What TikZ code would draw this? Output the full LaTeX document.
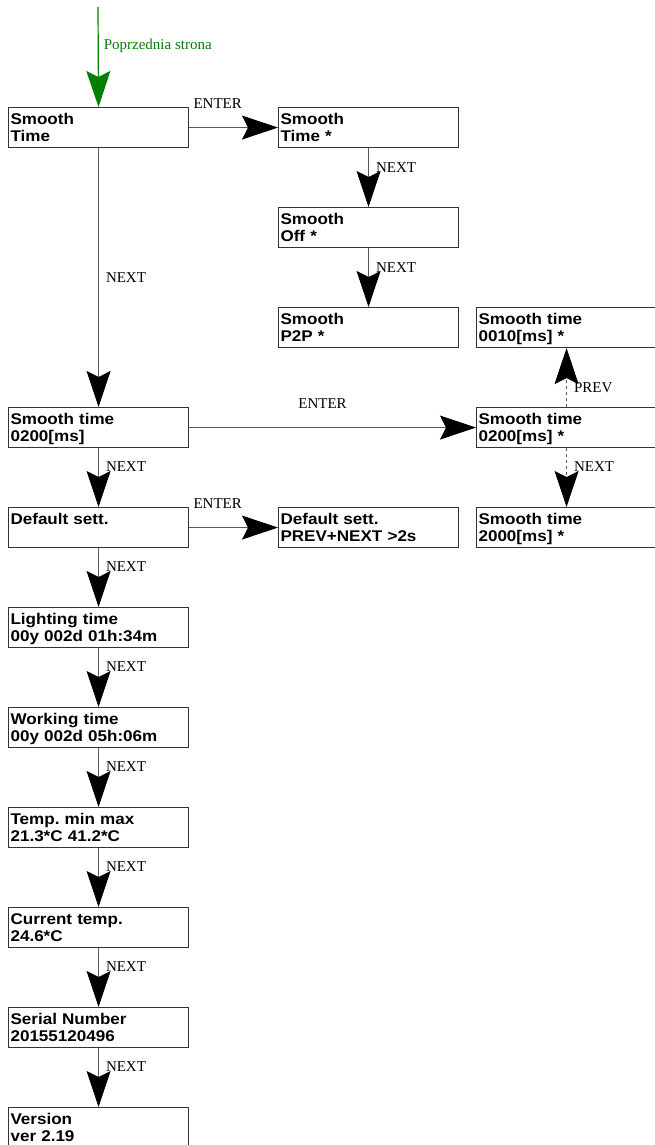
\documentclass[tikz,border=0pt]{standalone}
\usepackage{fontspec}
\setmainfont{Liberation Serif}
\setsansfont{Liberation Sans}[FakeStretch=1.1]
\usetikzlibrary{arrows.meta}
\frenchspacing

\begin{document}
\begin{tikzpicture}[x=1pt, y=-1pt,
 menu/.style={draw=black!80, line width=1.1pt, anchor=north west, text width=176pt,
   inner xsep=2pt, inner ysep=0pt, text height=17pt, text depth=23pt, align=left,
   font=\sffamily\bfseries\fontsize{15.5}{16.5}\selectfont},
 nav/.style={draw=black!65, line width=.9pt, -{Stealth[length=36pt, width=24pt, inset=6pt, color=black]}},
 back/.style={draw=green!50!black, line width=1.2pt, -{Stealth[length=36pt, width=24pt, inset=6pt]}},
 key/.style={font=\fontsize{15}{15}\selectfont, inner sep=2pt}]
%\draw[help lines] (0,0) grid[step=50] (654,1145);
\useasboundingbox (0,0) rectangle (654,1145);

 \node[menu] (stime) at (8,107) {Smooth\\Time};
 \node[menu] (stimeA) at (278,107) {Smooth\\Time *};
 \node[menu] (soff) at (278,207) {Smooth\\Off *};
 \node[menu] (sptp) at (278,307) {Smooth\\P2P *};

 \node[menu] (sval) at (8,407) {Smooth time\\0200[ms]};
 \node[menu] (svalmin) at (476,307) {Smooth time\\0010[ms] *};
 \node[menu] (svalA) at (476,407) {Smooth time\\0200[ms] *};
 \node[menu] (svalmax) at (476,507) {Smooth time\\2000[ms] *};

 \node[menu] (dflt) at (8,507) {Default sett.};
 \node[menu] (dfltA) at (278,507) {Default sett.\\PREV+NEXT >2s};

 \node[menu] (light) at (8,607) {Lighting time\\00y 002d 01h:34m};
 \node[menu] (work) at (8,707) {Working time\\00y 002d 05h:06m};
 \node[menu] (temp) at (8,807) {Temp. min max\\21.3*C 41.2*C};
 \node[menu] (cur) at (8,907) {Current temp.\\24.6*C};
 \node[menu] (serial) at (8,1007) {Serial Number\\20155120496};
 \node[menu] (ver) at (8,1107) {Version\\ver 2.19};

 \coordinate (prev) at (98,7);
 \draw[back] (prev) -- (stime.north)
   node[key, pos=.39, anchor=west, xshift=3pt, text=green!50!black] {Poprzednia strona};

 \draw[nav] (stime.east) -- (stimeA.west)
   node[key, pos=0, anchor=base west, xshift=2pt, yshift=19pt] {ENTER};
 \draw[nav] (stimeA) -- (soff) node[key, pos=.33, anchor=west, xshift=5pt] {NEXT};
 \draw[nav] (soff) -- (sptp) node[key, pos=.33, anchor=west, xshift=5pt] {NEXT};

 \draw[nav] (stime) -- (sval) node[key, midway, anchor=west, xshift=5pt] {NEXT};
 \draw[nav] (sval.east) -- (svalA.west)
   node[key, pos=.465, anchor=base, yshift=19pt] {ENTER};
 \draw[nav, dashed] (svalA) -- (svalmin) node[key, pos=.33, anchor=west, xshift=5pt] {PREV};
 \draw[nav, dashed] (svalA) -- (svalmax) node[key, pos=.32, anchor=west, xshift=5pt] {NEXT};

 \draw[nav] (sval) -- (dflt) node[key, pos=.32, anchor=west, xshift=5pt] {NEXT};
 \draw[nav] (dflt.east) -- (dfltA.west)
   node[key, pos=0, anchor=base west, xshift=2pt, yshift=19pt] {ENTER};

 \draw[nav] (dflt) -- (light) node[key, pos=.32, anchor=west, xshift=5pt] {NEXT};
 \draw[nav] (light) -- (work) node[key, pos=.32, anchor=west, xshift=5pt] {NEXT};
 \draw[nav] (work) -- (temp) node[key, pos=.32, anchor=west, xshift=5pt] {NEXT};
 \draw[nav] (temp) -- (cur) node[key, pos=.32, anchor=west, xshift=5pt] {NEXT};
 \draw[nav] (cur) -- (serial) node[key, pos=.32, anchor=west, xshift=5pt] {NEXT};
 \draw[nav] (serial) -- (ver) node[key, pos=.32, anchor=west, xshift=5pt] {NEXT};

\end{tikzpicture}
\end{document}
